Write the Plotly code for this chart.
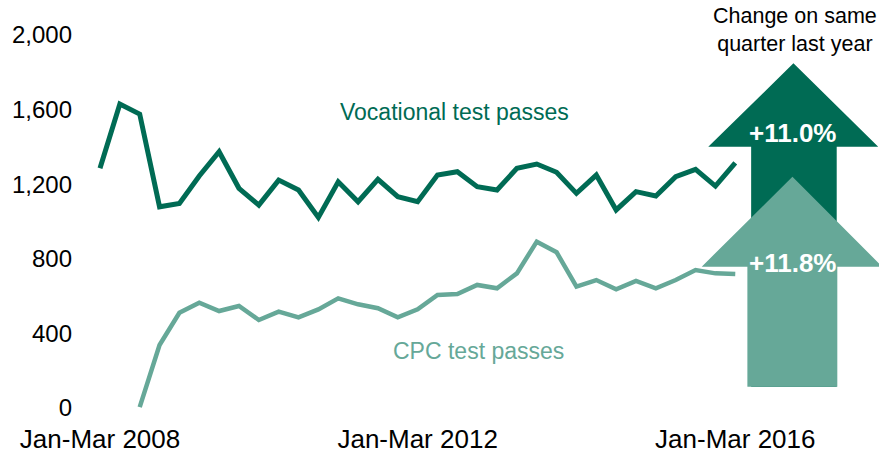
import plotly.graph_objects as go

# Quarterly test passes, Jan-Mar 2008 to Jan-Mar 2016
quarter_names = ["Jan-Mar", "Apr-Jun", "Jul-Sep", "Oct-Dec"]
quarters = [f"{quarter_names[i % 4]} {2008 + i // 4}" for i in range(33)]

vocational = [1285, 1630, 1576, 1079, 1097, 1244, 1374, 1178, 1088, 1222, 1169,
              1022, 1213, 1106, 1226, 1133, 1106, 1249, 1267, 1187, 1169, 1285,
              1308, 1264, 1151, 1249, 1062, 1160, 1137, 1240, 1280, 1190, 1315]

cpc = [None, None, 5, 338, 511, 565, 520, 547, 472, 517, 486, 529, 588, 556,
       535, 486, 529, 606, 611, 660, 642, 722, 892, 835, 651, 686, 636, 681,
       642, 686, 740, 722, 718]

tick_labels = ["Jan-Mar 2008", "Jan-Mar 2012", "Jan-Mar 2016"]
y_ticks = [0, 400, 800, 1200, 1600, 2000]

vocational_change = "+11.0%"
cpc_change = "+11.8%"

DARK = "#006B54"
LIGHT = "#66A898"
FONT = "Liberation Sans, Arial, sans-serif"

fig = go.Figure()


def arrow_path(x_left, x_right, shaft_left, shaft_right, tip_x, tip_y, base_y, bottom_y):
    return (f"M {shaft_left} {bottom_y} L {shaft_left} {base_y} L {x_left} {base_y} "
            f"L {tip_x} {tip_y} L {x_right} {base_y} L {shaft_right} {base_y} "
            f"L {shaft_right} {bottom_y} Z")


# Up arrows showing the year-on-year change
fig.add_shape(type="path", xref="x", yref="y", layer="below", line_width=0,
              fillcolor=DARK,
              path=arrow_path(30.64, 39.2, 32.8, 37.11, 34.93, 1848, 1401, 114))
fig.add_shape(type="path", xref="x", yref="y", layer="below", line_width=0,
              fillcolor=LIGHT,
              path=arrow_path(30.31, 39.4, 32.61, 37.14, 34.88, 1240, 758, 114))

fig.add_trace(go.Scatter(x=quarters, y=vocational, mode="lines",
                         line=dict(color=DARK, width=5), hoverinfo="skip"))
fig.add_trace(go.Scatter(x=quarters, y=cpc, mode="lines",
                         line=dict(color=LIGHT, width=4.5), hoverinfo="skip"))

fig.add_annotation(x=34.86, y=1475, text=f"<b>{vocational_change}</b>", showarrow=False,
                   font=dict(family=FONT, size=26, color="white"))
fig.add_annotation(x=34.86, y=777, text=f"<b>{cpc_change}</b>", showarrow=False,
                   font=dict(family=FONT, size=26, color="white"))
fig.add_annotation(x=35.0, y=2027, text="Change on same<br>quarter last year",
                   showarrow=False, font=dict(family=FONT, size=21.5, color="black"))
fig.add_annotation(x=17.85, y=1585, text="Vocational test passes", showarrow=False,
                   font=dict(family=FONT, size=23, color=DARK))
fig.add_annotation(x=19.05, y=305, text="CPC test passes", showarrow=False,
                   font=dict(family=FONT, size=23, color=LIGHT))

fig.update_layout(
    width=879, height=453,
    margin=dict(l=78, r=0, t=0, b=33),
    paper_bgcolor="white", plot_bgcolor="white",
    showlegend=False,
    font=dict(family=FONT, color="black"),
    xaxis=dict(type="category", range=[-1.108, 39.24], tickmode="array",
               tickvals=[quarters.index(t) for t in tick_labels], ticktext=tick_labels,
               showgrid=False, zeroline=False, showline=False, ticks="",
               tickfont=dict(size=26), ticklabelstandoff=1),
    yaxis=dict(range=[-64.3, 2187.7], tickmode="array", tickvals=y_ticks,
               ticktext=[f"{v:,}" for v in y_ticks],
               showgrid=False, zeroline=False, showline=False, ticks="",
               tickfont=dict(size=24), ticklabelstandoff=5),
)

fig.write_html("out.html")
